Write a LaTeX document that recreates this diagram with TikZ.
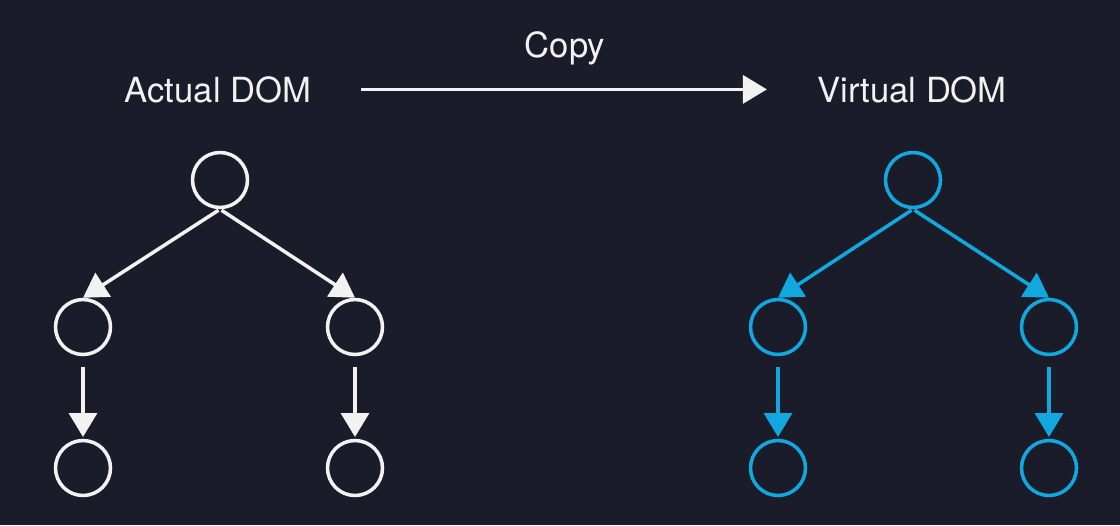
\documentclass[tikz,border=0pt]{standalone}
\usepackage{fontspec}
\setmainfont{TeX Gyre Heros}
\usetikzlibrary{arrows.meta}
\definecolor{bgnavy}{HTML}{1B1C2A}
\definecolor{chalk}{HTML}{F2F2F2}
\definecolor{vcyan}{HTML}{10A8DF}
\tikzset{
  dom/.style={circle,draw=#1,line width=2pt,minimum size=1.1cm,inner sep=0pt},
  dom/.default=chalk,
  arr/.style={-{Triangle[length=0.48cm,width=0.56cm]},line width=2pt,draw=#1,color=#1},
  arr/.default=chalk,
  ttl/.style={text=chalk,font=\fontsize{19.7}{24}\selectfont,inner sep=0pt},
}

\begin{document}
\begin{tikzpicture}[x=0.02cm,y=-0.02cm]
    \fill[bgnavy] (0,0) rectangle (1120,525);
    \useasboundingbox (0,0) rectangle (1120,525);

    % titles
    \node[ttl,anchor=base] (adom) at (218,102) {Actual DOM};
    \node[ttl,anchor=base] (vdom) at (912,102) {Virtual DOM};
    \node[ttl,anchor=base] (copy) at (565,57) {Copy};
    \draw[arr,shorten <=1cm,shorten >=1cm] (adom.east) -- (vdom.west);

    % actual DOM tree
    \node[dom] (at) at (220,180) {};
    \node[dom] (al) at (83,327) {};
    \node[dom] (ar) at (355,327) {};
    \node[dom] (all) at (83,468) {};
    \node[dom] (arr) at (355,468) {};

    \draw[arr,shorten <=1pt] (at.south) -- (al.north);
    \draw[arr,shorten <=1pt] (at.south) -- (ar.north);
    \draw[arr,shorten <=0.22cm,shorten >=1pt] (al.south) -- (all.north);
    \draw[arr,shorten <=0.22cm,shorten >=1pt] (ar.south) -- (arr.north);

    % virtual DOM tree
    \node[dom=vcyan] (vt) at (913,180) {};
    \node[dom=vcyan] (vl) at (778,327) {};
    \node[dom=vcyan] (vr) at (1049,327) {};
    \node[dom=vcyan] (vll) at (778,468) {};
    \node[dom=vcyan] (vrr) at (1049,468) {};

    \draw[arr=vcyan,shorten <=1pt] (vt.south) -- (vl.north);
    \draw[arr=vcyan,shorten <=1pt] (vt.south) -- (vr.north);
    \draw[arr=vcyan,shorten <=0.22cm,shorten >=1pt] (vl.south) -- (vll.north);
    \draw[arr=vcyan,shorten <=0.22cm,shorten >=1pt] (vr.south) -- (vrr.north);
  \end{tikzpicture}
\end{document}
